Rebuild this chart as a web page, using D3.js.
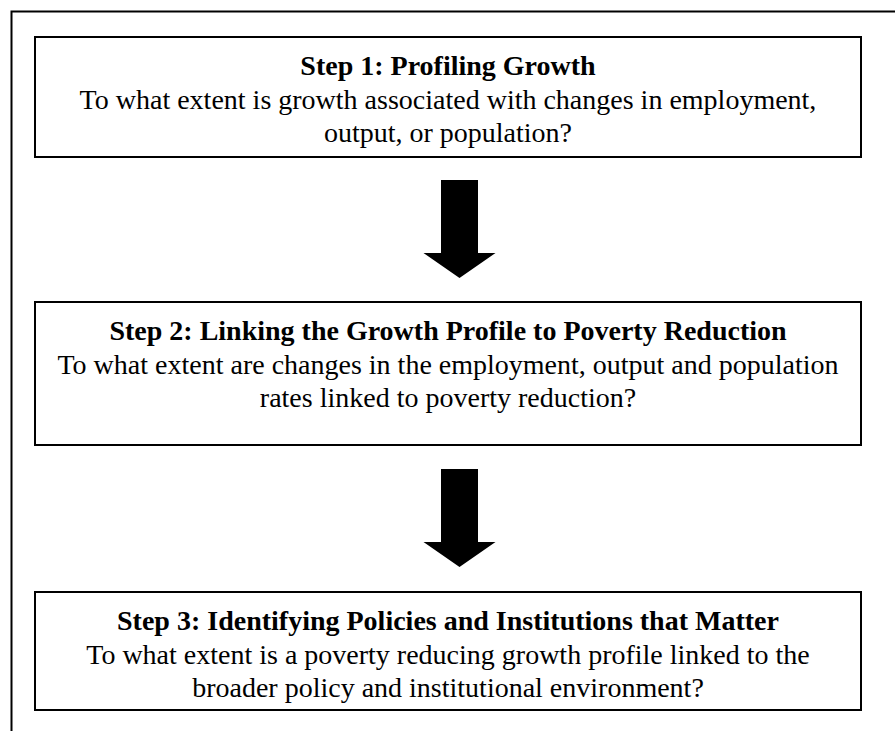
<!DOCTYPE html>
<html><head><meta charset="utf-8">
<script src="https://cdn.jsdelivr.net/npm/d3@7"></script>
<style>html,body{margin:0;padding:0;background:#fff;overflow:hidden}</style>
</head><body>
<script>
const stepTitles = [
  "Step 1: Profiling Growth",
  "Step 2: Linking the Growth Profile to Poverty Reduction",
  "Step 3: Identifying Policies and Institutions that Matter"
];
const stepQuestions = [
  ["To what extent is growth associated with changes in employment,", "output, or population?"],
  ["To what extent are changes in the employment, output and population", "rates linked to poverty reduction?"],
  ["To what extent is a poverty reducing growth profile linked to the", "broader policy and institutional environment?"]
];

const W = 895, H = 731;
const svg = d3.select("body").append("svg").attr("width", W).attr("height", H);

// outer frame (right and bottom run off the page)
svg.append("rect").attr("x", 11.5).attr("y", 11.5).attr("width", 900).attr("height", 740)
  .attr("fill", "none").attr("stroke", "#000").attr("stroke-width", 2);

const boxes = [
  {top: 37, bottom: 157},
  {top: 302, bottom: 445},
  {top: 592, bottom: 710}
];
const boxLeft = 35, boxRight = 861;
const cx = (boxLeft + boxRight) / 2;
const font = "'Liberation Serif','Times New Roman',serif";
const lineH = 33.5;

const g = svg.selectAll("g.step").data(stepTitles).join("g").attr("class", "step");
g.append("rect")
  .attr("x", boxLeft).attr("y", (d, i) => boxes[i].top)
  .attr("width", boxRight - boxLeft).attr("height", (d, i) => boxes[i].bottom - boxes[i].top)
  .attr("fill", "#fff").attr("stroke", "#000").attr("stroke-width", 2);
g.append("text")
  .attr("x", cx).attr("y", (d, i) => boxes[i].top + 38)
  .attr("text-anchor", "middle").attr("font-family", font).attr("font-weight", "bold")
  .attr("font-size", 28).attr("fill", "#000").text(d => d);
g.each(function(d, i) {
  d3.select(this).selectAll("text.q").data(stepQuestions[i]).join("text").attr("class", "q")
    .attr("x", cx).attr("y", (t, j) => boxes[i].top + 38 + lineH * (j + 1))
    .attr("text-anchor", "middle").attr("font-family", font)
    .attr("font-size", 28).attr("fill", "#000").text(t => t);
});

// arrows between boxes
const ax = 459.5;
const arrows = [{top: 180, tip: 278}, {top: 469, tip: 567}];
const line = d3.line();
svg.selectAll("path.arrow").data(arrows).join("path").attr("class", "arrow")
  .attr("d", a => {
    const headY = a.tip - 25;
    return line([[ax - 18.5, a.top], [ax + 18.5, a.top], [ax + 18.5, headY], [ax + 36, headY],
      [ax, a.tip], [ax - 36, headY], [ax - 18.5, headY]]) + "Z";
  })
  .attr("fill", "#000");
</script>
</body></html>
